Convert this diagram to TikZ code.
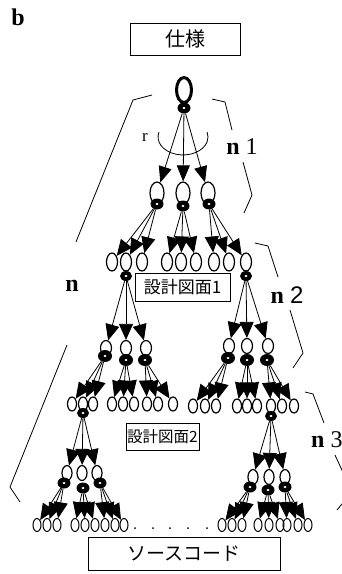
\documentclass[tikz,border=0pt]{standalone}
\usepackage{fontspec}
\setmainfont{Liberation Serif}
\setsansfont{Liberation Sans}
\newfontfamily\jpfont{Noto Sans CJK JP}
\usetikzlibrary{arrows.meta, shapes.geometric}

\begin{document}
\begin{tikzpicture}[x=1pt, y=-1pt,
  leaf/.style 2 args={ellipse, draw, line width=1.2pt, inner sep=0pt, minimum width=#1pt, minimum height=#2pt},
  hub/.style 2 args={ellipse, fill=black, inner sep=0pt, minimum width=#1pt, minimum height=#2pt,
    path picture={\fill[white] (path picture bounding box.center) ellipse (1.6pt and 1.1pt);}},
  arr/.style={-{Triangle[length=16pt, width=14pt]}, line width=0.8pt},
  brace/.style={line width=0.8pt},
  doc/.style={draw, line width=0.8pt, inner sep=0pt, fill=white},
  lbl/.style={inner sep=0pt, font=\fontsize{24}{24}\selectfont},
]
\useasboundingbox (0,0) rectangle (342,574);

\node[inner sep=0pt, font=\bfseries\fontsize{24}{24}\selectfont] (tag) at (18,17) {b};

% documents
\node[doc, minimum width=110pt, minimum height=32pt, font=\jpfont\fontsize{20}{20}\selectfont] (spec) at (185,39) {仕様};

% root
\node[leaf={15}{25}, line width=3pt] (r0) at (184,90) {};
\node[hub={13}{11}] (hr) at (184,108) {};

% level 1
\foreach \x/\y [count=\i] in {157/193, 183/193, 208/193}
  \node[leaf={14}{22}] (a\i) at (\x,\y) {};
\foreach \x/\y [count=\i] in {157/204, 183/206, 209/204}
  \node[hub={13}{11}] (ha\i) at (\x,\y) {};
\foreach \i in {1,2,3}
  \draw[arr, -{Triangle[length=16pt, width=13pt]}] (hr) -- (a\i);

% rotation r
\draw[brace] (159,132) arc[start angle=196, end angle=-16, x radius=25, y radius=18];
\node[inner sep=0pt, font=\fontsize{17}{17}\selectfont] (rot) at (145,137) {r};

% level 2
\foreach \x [count=\i] in {112,126,142,167,181,196,214,229,246}
  \node[leaf={11}{18}] (b\i) at (\x,262) {};
\node[hub={12}{10}] (hb2) at (126,276) {};
\node[hub={12}{10}] (hb9) at (246,276) {};
\foreach \j in {1,2,3}
  \foreach \k in {1,2,3} {
    \pgfmathtruncatemacro\c{3*(\j-1)+\k}
    \draw[arr] (ha\j) -- (b\c);
  }

\node[doc, minimum width=95pt, minimum height=28pt, font=\jpfont\fontsize{17}{17}\selectfont] (plan1) at (182.5,287) {設計図面1};

% level 3
\foreach \x/\y [count=\i] in {106/348, 126/348, 146/348, 229/346, 247/346, 268/346}
  \node[leaf={11}{15}] (c\i) at (\x,\y) {};
\foreach \x/\y [count=\i] in {105/356, 126/360, 145/360, 228/358, 247/360, 267/360}
  \node[hub={14}{12}] (hc\i) at (\x,\y) {};
\foreach \k in {1,2,3} {
  \pgfmathtruncatemacro\c{\k+3}
  \draw[arr] (hb2) -- (c\k);
  \draw[arr] (hb9) -- (c\c);
}

% level 4
\foreach \x [count=\i] in {72,83,93,112,123,134,147,158,173}
  \node[leaf={9}{14}] (d\i) at (\x,404) {};
\foreach \x [count=\i from 10] in {193,205,216,237,247,257,271,282,294}
  \node[leaf={9}{14}] (d\i) at (\x,406) {};
\node[hub={12}{10}] (hd2) at (83,413) {};
\node[hub={12}{10}] (hd16) at (271,416) {};
\foreach \j in {1,...,6}
  \foreach \k in {1,2,3} {
    \pgfmathtruncatemacro\c{3*(\j-1)+\k}
    \draw[arr] (hc\j) -- (d\c);
  }

\node[doc, minimum width=73pt, minimum height=27pt, font=\jpfont\fontsize{15.5}{15.5}\selectfont] (plan2) at (162.5,436.5) {設計図面2};

% level 5
\foreach \x/\y [count=\i] in {67/473, 82/473, 97/473, 253/477, 269/477, 285/477}
  \node[leaf={10}{15}] (e\i) at (\x,\y) {};
\foreach \x/\y [count=\i] in {64/483, 83/488, 100/483, 250/487, 268/490, 285/487}
  \node[hub={13}{11}] (he\i) at (\x,\y) {};
\foreach \k in {1,2,3} {
  \pgfmathtruncatemacro\c{\k+3}
  \draw[arr] (hd2) -- (e\k);
  \draw[arr] (hd16) -- (e\c);
}

% level 6
\foreach \x [count=\i] in {37,47,57,75,85,95,105,115,124,222,232,242,258,269,280,287,298,308}
  \node[leaf={8}{13}, line width=1pt] (f\i) at (\x,525) {};
\foreach \j in {1,...,6}
  \foreach \k in {1,2,3} {
    \pgfmathtruncatemacro\c{3*(\j-1)+\k}
    \draw[arr] (he\j) -- (f\c);
  }
\foreach \x in {135,153,170,188,207}
  \fill (\x,528) circle (1pt);

\node[doc, minimum width=192pt, minimum height=33pt, font=\jpfont\fontsize{19}{19}\selectfont] (src) at (184,553.5) {ソースコード};

% brackets
\draw[brace] (152,95) -- (133,100) -- (76,242);
\draw[brace] (67,345) -- (10,487) -- (20,502);
\node[lbl] (n0) at (72,286) {\textbf{n}};
\draw[brace] (212,99) -- (225,102) -- (232,130);
\draw[brace] (243,162) -- (252,195) -- (244,213);
\node[lbl] (n1) at (242,147) {\textbf{n} 1};
\draw[brace] (255,243) -- (268,246) -- (278,277);
\draw[brace] (290,310) -- (303,353) -- (293,368);
\node[lbl] (n2) at (287,295) {\textbf{n} \textsf{2}};
\draw[brace] (305,392) -- (313,394) -- (324,423);
\draw[brace] (335,455) -- (352,492) -- (337,510);
\node[lbl, anchor=west] (n3) at (311,440) {\textbf{n} 3};
\end{tikzpicture}
\end{document}
